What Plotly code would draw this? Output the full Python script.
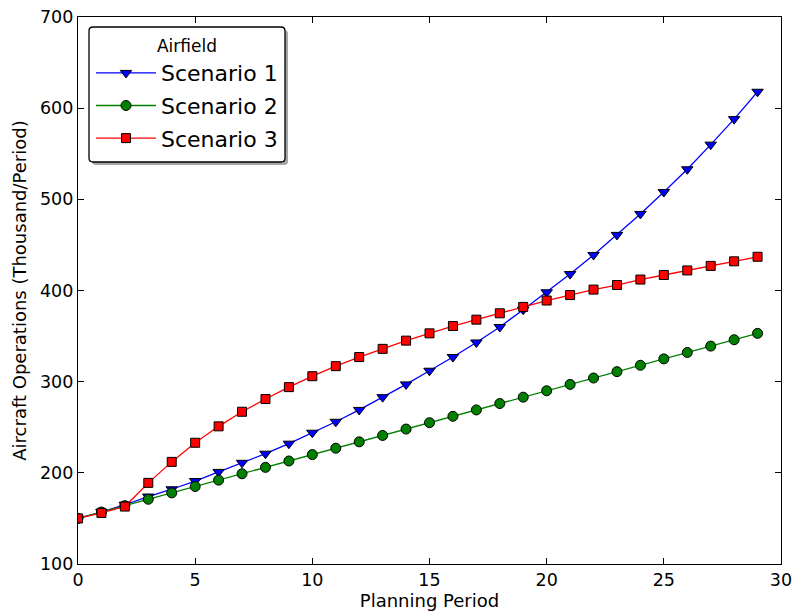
import plotly.graph_objects as go

# Planning periods and projected aircraft operations (thousand per period)
periods = list(range(30))
scenario_1 = [150, 157, 165, 174, 182, 191, 201, 211, 221, 232,
              244, 256, 269, 283, 297, 312, 327, 343, 360, 379,
              398, 418, 439, 461, 484, 508, 533, 560, 588, 618]
scenario_2 = [150, 157, 164, 171, 178, 185, 192, 199, 206, 213,
              220, 227, 234, 241, 248, 255, 262, 269, 276, 283,
              290, 297, 304, 311, 318, 325, 332, 339, 346, 353]
scenario_3 = [150, 156, 163, 189, 212, 233, 251, 267, 281, 294,
              306, 317, 327, 336, 345, 353, 361, 368, 375, 382,
              389, 395, 401, 406, 412, 417, 422, 427, 432, 437]

series = [
    ("Scenario 1", scenario_1, "#0000ff", "triangle-down", 10),
    ("Scenario 2", scenario_2, "#008000", "circle", 10),
    ("Scenario 3", scenario_3, "#ff0000", "square", 9),
]

W, H = 795, 616
L, R, T, B = 78, 14, 17, 52
PW, PH = W - L - R, H - T - B


def px_x(px):
    return (px - L) / PW


def px_y(py):
    return (H - B - py) / PH


def rounded_rect(x0, y0, x1, y1, r):
    """SVG path (paper coords) for a rounded box given in pixel coords."""
    rx, ry = r / PW, r / PH
    a, b, c, d = px_x(x0), px_x(x1), px_y(y0), px_y(y1)  # c = top, d = bottom
    return (f"M {a + rx},{c} L {b - rx},{c} Q {b},{c} {b},{c - ry} "
            f"L {b},{d + ry} Q {b},{d} {b - rx},{d} L {a + rx},{d} "
            f"Q {a},{d} {a},{d + ry} L {a},{c - ry} Q {a},{c} {a + rx},{c} Z")


fig = go.Figure()
for name, vals, color, symbol, size in series:
    fig.add_trace(go.Scatter(
        x=periods, y=vals, name=name, mode="lines+markers",
        legendgroup=name,
        line=dict(color=color, width=1.3),
        marker=dict(symbol=symbol, size=size, color=color,
                    line=dict(color="black", width=1)),
    ))

axis_common = dict(
    showgrid=False, zeroline=False, showline=True, linecolor="black",
    linewidth=1.3, mirror="allticks", ticks="inside", ticklen=6,
    tickcolor="black", tickfont=dict(size=17.5, color="black"),
    title_font=dict(size=18, color="black"), automargin=False,
)

# Legend frame: drop shadow plus a rounded white box drawn beneath the legend
box = (89, 27, 285, 162)
shapes = [
    dict(type="path", xref="paper", yref="paper",
         path=rounded_rect(box[0] + 3, box[1] + 3, box[2] + 3, box[3] + 3, 4),
         fillcolor="#a6a6a6", line=dict(width=0), layer="above"),
    dict(type="path", xref="paper", yref="paper",
         path=rounded_rect(*box, 4),
         fillcolor="white", line=dict(color="black", width=1.3), layer="above"),
]

fig.update_layout(
    width=W, height=H,
    margin=dict(l=L, r=R, t=T, b=B),
    paper_bgcolor="white", plot_bgcolor="white",
    font=dict(family="DejaVu Sans", color="black"),
    xaxis=dict(range=[0, 30], dtick=5,
               title=dict(text="Planning Period", standoff=5), **axis_common),
    yaxis=dict(range=[100, 700], dtick=100,
               title=dict(text="Aircraft Operations (Thousand/Period)", standoff=8),
               **axis_common),
    legend=dict(
        x=px_x(box[0] + 2), y=px_y(box[1] + 3), xanchor="left", yanchor="top",
        bgcolor="rgba(0,0,0,0)", borderwidth=0,
        font=dict(size=22, color="black"),
        title=dict(text="Airfield", side="top center", font=dict(size=17)),
        itemwidth=60, tracegroupgap=1,
    ),
    shapes=shapes,
)

fig.write_html("out.html")
